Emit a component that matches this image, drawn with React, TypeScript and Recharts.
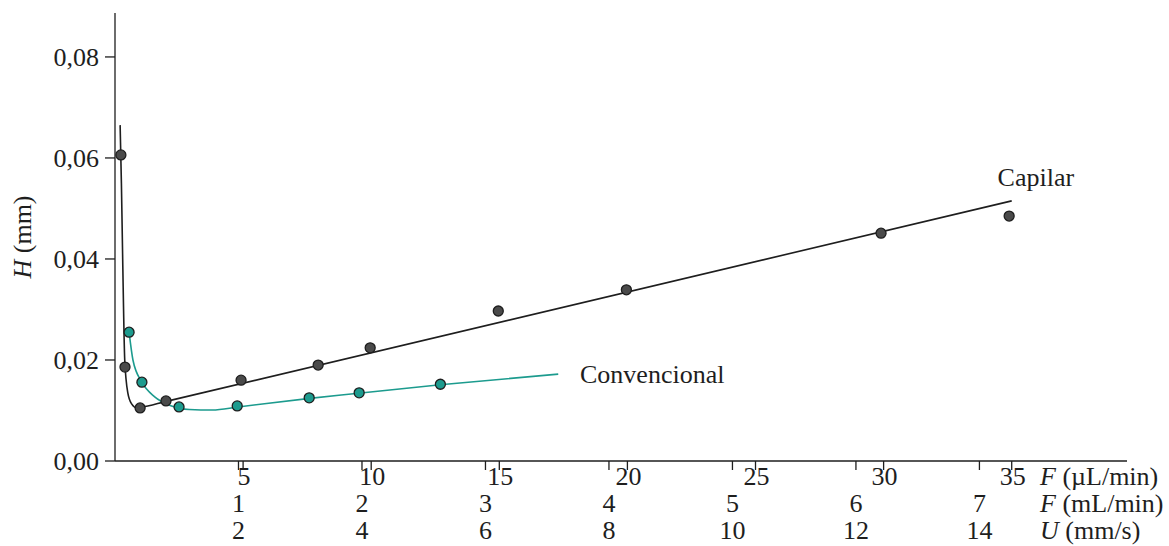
import React from "react";
import {
  ComposedChart,
  Line,
  Scatter,
  XAxis,
  YAxis,
  ReferenceDot,
  Customized,
} from "recharts";

// measured points, x in µL/min, y = H in mm
const capilarX = [0.23, 0.39, 0.98, 1.99, 4.92, 7.93, 9.96, 14.96, 19.96, 29.9, 34.9];
const capilarY = [0.0606, 0.0186, 0.0105, 0.0119, 0.016, 0.019, 0.0224, 0.0297, 0.0339, 0.0451, 0.0485];

const convX = [0.55, 1.05, 2.5, 4.77, 7.58, 9.53, 12.7];
const convY = [0.0255, 0.0156, 0.0107, 0.0109, 0.0125, 0.0135, 0.0152];

// fitted curves
const capilarFitX = [0.2, 0.25, 0.3, 0.38, 0.5, 0.65, 0.85, 1.0, 2.0, 35.0];
const capilarFitY = [0.0665, 0.055, 0.04, 0.02, 0.0135, 0.0113, 0.0105, 0.0106, 0.0118, 0.0515];

const convFitX = [0.55, 0.7, 1.05, 1.55, 2.15, 2.9, 3.8, 4.8, 7.6, 9.5, 12.7, 17.3];
const convFitY = [0.0255, 0.02, 0.0156, 0.0127, 0.011, 0.0102, 0.0101, 0.0107, 0.0124, 0.0134, 0.0151, 0.0172];

// axis ticks
const ulTicks = [5, 10, 15, 20, 25, 30, 35];
const mlTicks = [1, 2, 3, 4, 5, 6, 7];
const uTicks = [2, 4, 6, 8, 10, 12, 14];
const yTicks = [0, 0.02, 0.04, 0.06, 0.08];
const mlToUl = 4.82; // position of 1 mL/min on the µL/min scale

const zip = (xs: number[], ys: number[]) => xs.map((x, i) => ({ x, y: ys[i] }));

const capilarPts = zip(capilarX, capilarY);
const convPts = zip(convX, convY);
const capilarFit = zip(capilarFitX, capilarFitY);
const convFit = zip(convFitX, convFitY);

const FONT = "'Liberation Serif', 'Times New Roman', serif";
const FS = 26;
const TEAL = "#1c9b8e";
const INK = "#1e1e1e";

const allXTicks = [...ulTicks, ...mlTicks.map((m) => m * mlToUl)];

const XTick = (props: any) => {
  const { x, y, payload } = props;
  const v = payload.value;
  const ulIdx = ulTicks.indexOf(v);
  if (ulIdx >= 0) {
    return (
      <text x={x + 1} y={y} dy={15} textAnchor="middle" fontFamily={FONT} fontSize={FS} fill={INK}>
        {ulTicks[ulIdx]}
      </text>
    );
  }
  const mi = mlTicks.findIndex((m) => Math.abs(m * mlToUl - v) < 1e-6);
  if (mi < 0) return null;
  return (
    <g>
      <text x={x} y={y} dy={42} textAnchor="middle" fontFamily={FONT} fontSize={FS} fill={INK}>
        {mlTicks[mi]}
      </text>
      <text x={x} y={y} dy={69} textAnchor="middle" fontFamily={FONT} fontSize={FS} fill={INK}>
        {uTicks[mi]}
      </text>
    </g>
  );
};

const Dot = (fill: string) => (props: any) => (
  <circle cx={props.cx} cy={props.cy} r={5} fill={fill} stroke={INK} strokeWidth={1.3} />
);

const UnitLabels = () => (
  <g fontFamily={FONT} fontSize={FS} fill={INK}>
    <text x={1040} y={485}>
      <tspan fontStyle="italic">F</tspan> (µL/min)
    </text>
    <text x={1040} y={512}>
      <tspan fontStyle="italic">F</tspan> (mL/min)
    </text>
    <text x={1040} y={539}>
      <tspan fontStyle="italic">U</tspan> (mm/s)
    </text>
  </g>
);

const YLabel = (props: any) => {
  const { viewBox } = props;
  const cx = 22;
  const cy = viewBox.y + viewBox.height / 2;
  return (
    <text
      x={cx}
      y={cy}
      transform={`rotate(-90 ${cx} ${cy})`}
      textAnchor="middle"
      dominantBaseline="central"
      fontFamily={FONT}
      fontSize={FS}
      fill={INK}
    >
      <tspan fontStyle="italic">H</tspan> (mm)
    </text>
  );
};

const SeriesText = (text: string) => (props: any) => (
  <text x={props.cx} y={props.cy} dominantBaseline="central" fontFamily={FONT} fontSize={FS} fill={INK}>
    {text}
  </text>
);

export default function App() {
  return (
    <div style={{ position: "absolute", left: 0, top: 0, background: "#fff" }}>
      <ComposedChart
        width={1169}
        height={546}
        margin={{ top: 13, right: 42, left: 0, bottom: 0 }}
      >
        <XAxis
          type="number"
          dataKey="x"
          domain={[0, 39.5]}
          allowDataOverflow
          ticks={allXTicks}
          interval={0}
          tick={<XTick />}
          tickSize={9}
          tickMargin={0}
          height={85}
          axisLine={{ stroke: INK, strokeWidth: 1.3 }}
          tickLine={{ stroke: INK, strokeWidth: 1.3 }}
        />
        <YAxis
          type="number"
          dataKey="y"
          domain={[0, 0.0887]}
          allowDataOverflow
          ticks={yTicks}
          interval={0}
          width={115}
          tickSize={10}
          tickMargin={6}
          tickFormatter={(v: number) => v.toFixed(2).replace(".", ",")}
          tick={{ fontFamily: FONT, fontSize: FS, fill: INK }}
          axisLine={{ stroke: INK, strokeWidth: 1.3 }}
          tickLine={{ stroke: INK, strokeWidth: 1.3 }}
          label={<YLabel />}
        />
        <Line
          data={capilarFit}
          dataKey="y"
          type="monotone"
          stroke={INK}
          strokeWidth={1.6}
          dot={false}
          activeDot={false}
          isAnimationActive={false}
        />
        <Line
          data={convFit}
          dataKey="y"
          type="monotone"
          stroke={TEAL}
          strokeWidth={1.6}
          dot={false}
          activeDot={false}
          isAnimationActive={false}
        />
        <Scatter data={capilarPts} dataKey="y" shape={Dot("#4a4a4a")} isAnimationActive={false} />
        <Scatter data={convPts} dataKey="y" shape={Dot(TEAL)} isAnimationActive={false} />
        <ReferenceDot x={34.45} y={0.0562} r={0} shape={SeriesText("Capilar")} ifOverflow="visible" />
        <ReferenceDot x={18.15} y={0.0172} r={0} shape={SeriesText("Convencional")} ifOverflow="visible" />
        <Customized component={UnitLabels} />
      </ComposedChart>
    </div>
  );
}
